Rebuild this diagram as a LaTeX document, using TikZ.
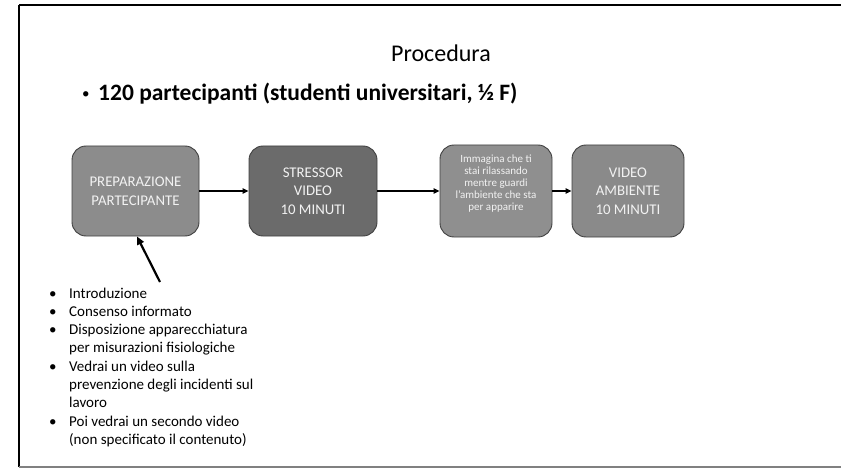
\documentclass[tikz,border=0pt]{standalone}
\usepackage{fontspec}
\setmainfont{Carlito}
\usetikzlibrary{arrows.meta}
\begin{document}
\begin{tikzpicture}[x=1pt,y=-1pt,
    blocco/.style={draw=bordo, line width=0.9pt, rounded corners=14pt, text=testo, align=center,
        minimum width=127pt, minimum height=90pt, inner sep=0pt,
        font=\fontsize{14.8}{18.5}\selectfont},
    freccia/.style={-{Triangle[length=6pt,width=5.5pt]}, line width=1.3pt}]

        % colori dei blocchi
        \definecolor{grigioA}{RGB}{140, 140, 140}
        \definecolor{grigioB}{RGB}{107, 107, 107}
        \definecolor{grigioC}{RGB}{143, 143, 143}
        \definecolor{grigioD}{RGB}{138, 138, 138}
        \definecolor{bordo}{RGB}{64, 64, 64}
        \definecolor{testo}{RGB}{242, 242, 242}

        \useasboundingbox (0, 0) rectangle (841, 468);

        % cornice della diapositiva
        \draw[line width=2pt] (19, 5) -- (841, 5);
        \draw[line width=2pt] (19, 5) -- (19, 467);
        \draw[gray, line width=1.5pt] (19, 467) -- (841, 467);

        % titolo
        \node[anchor=base, font=\fontsize{24}{29}\selectfont] (titolo) at (441, 62) {Procedura};
        \node[anchor=base west, inner sep=0pt, font=\fontsize{23.5}{28}\selectfont\bfseries] (partecipanti) at (82, 101)
            {\makebox[16pt][l]{\normalfont\fontsize{15}{15}\selectfont\raisebox{2pt}{\textbullet}}120 partecipanti (studenti universitari, ½ F)};

        % i quattro blocchi
        \node[blocco, fill=grigioA] (prep) at (135.5, 191) {PREPARAZIONE\\PARTECIPANTE};
        \node[blocco, fill=grigioB, minimum width=128pt] (stressor) at (313, 191) {STRESSOR\\VIDEO\\10 MINUTI};
        \node[blocco, fill=grigioC, minimum width=112pt, minimum height=92pt,
              font=\fontsize{11}{12}\selectfont] (immagina) at (496, 191)
            {Immagina che ti\\stai rilassando\\mentre guardi\\l’ambiente che sta\\per apparire\\[4pt]};
        \node[blocco, fill=grigioD, minimum width=112pt, minimum height=92pt] (ambiente) at (628, 191) {VIDEO\\AMBIENTE\\10 MINUTI};

        % frecce tra i blocchi
        \draw[freccia] (prep) -- (stressor);
        \draw[freccia] (stressor) -- (immagina);
        \draw[freccia] (immagina) -- (ambiente);

        % elenco della preparazione
        \node[anchor=base west, inner sep=0pt, font=\fontsize{15}{18.3}\selectfont] (elenco) at (49, 298)
            {\begin{tabular}[t]{@{}l@{}l@{}}
                \makebox[20pt][l]{\textbullet} & Introduzione\\
                \textbullet & Consenso informato\\
                \textbullet & Disposizione apparecchiatura\\
                 & per misurazioni fisiologiche\\
                \textbullet & Vedrai un video sulla\\
                 & prevenzione degli incidenti sul\\
                 & lavoro\\
                \textbullet & Poi vedrai un secondo video\\
                 & (non specificato il contenuto)
            \end{tabular}};

        \coordinate (coda) at (160, 282);
        \draw[-{Triangle[length=8pt,width=7pt]}, line width=2.2pt] (coda) -- ([xshift=1.5pt]prep.south);

\end{tikzpicture}
\end{document}
